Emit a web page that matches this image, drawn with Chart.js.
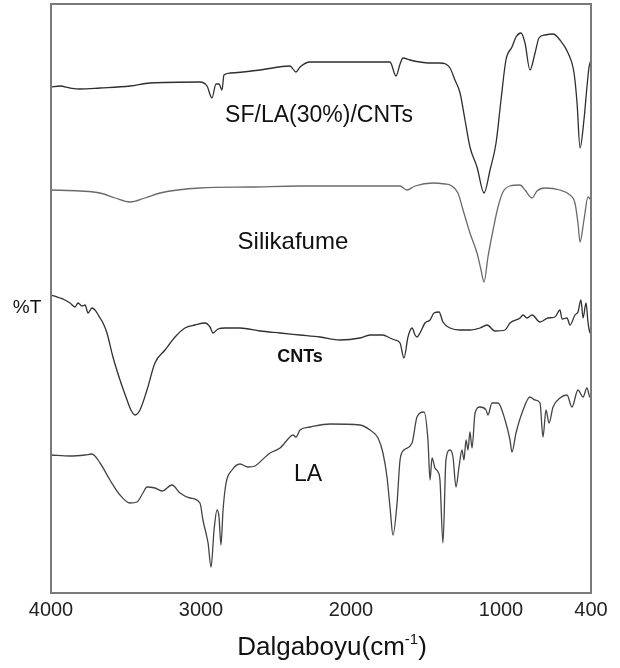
<!DOCTYPE html>
<html><head><meta charset="utf-8">
<script src="https://cdn.jsdelivr.net/npm/chart.js@4.4.0/dist/chart.umd.min.js"></script>
<style>html,body{margin:0;padding:0;background:#fff;} canvas{display:block;}</style>
</head><body>
<canvas id="c" width="620" height="668"></canvas>
<script>
// ---- data (wavenumber in cm^-1, transmittance in arbitrary %T units) ----
const xTicks = [4000, 3000, 2000, 1000, 400];
const seriesNames = ['SF/LA(30%)/CNTs', 'Silikafume', 'CNTs', 'LA'];

const sfWn = [4000,3940,3873,3807,3673,3473,3340,3007,2960,2927,2900,2880,2860,2847,2807,2607,2407,2367,2340,2273,2007,1740,1700,1673,1653,1607,1540,1473,1407,1340,1307,1273,1240,1207,1160,1113,1073,1033,1000,967,927,900,867,840,807,773,747,707,653,607,553,513,493,473,447,427,413,400];
const sfT  = [506,507,505,504,505,507,510,511,507,495,509,509,503,518,520,523,527,521,526,531,531,531,517,529,535,533,531,530,530,525,513,500,473,446,426,400,423,450,493,533,546,556,560,550,523,540,555,558,559,553,540,520,490,445,473,506,526,533];

const siWn = [4000,3807,3673,3573,3473,3373,3273,3007,2673,2340,2007,1673,1627,1573,1453,1373,1340,1287,1253,1207,1160,1133,1113,1087,1053,1020,987,940,873,840,793,760,707,607,540,507,487,473,447,420,400];
const siT  = [403,402,400,395,391,395,400,405,406,407,407,407,403,407,410,409,408,400,383,360,340,323,311,336,363,386,401,407,408,403,395,402,405,403,398,390,370,351,373,396,393];

const cnWn = [4000,3940,3907,3873,3840,3820,3793,3773,3753,3727,3707,3693,3673,3653,3627,3587,3540,3493,3467,3440,3407,3360,3307,3240,3173,3107,3040,2973,2940,2920,2887,2840,2740,2607,2473,2340,2207,2073,1940,1873,1787,1740,1707,1673,1647,1620,1593,1573,1560,1540,1507,1473,1447,1413,1387,1340,1273,1207,1140,1093,1040,973,940,873,853,827,793,740,687,640,607,593,560,540,507,487,467,453,433,420,407,400];
const cnT  = [298,295,293,290,286,290,287,288,280,285,283,280,275,270,260,236,213,193,183,178,183,203,230,243,256,265,268,270,266,260,264,265,265,262,260,258,256,253,255,258,258,255,253,250,235,256,265,258,256,260,270,273,280,281,271,265,263,263,265,268,262,263,270,275,278,275,278,271,275,276,283,274,275,268,278,281,293,275,290,271,260,270];

const laWn = [4000,3873,3773,3727,3673,3607,3540,3473,3427,3387,3360,3307,3260,3193,3140,3073,3007,2987,2967,2953,2933,2913,2893,2880,2867,2853,2833,2793,2740,2687,2640,2593,2540,2473,2407,2387,2367,2340,2273,2140,1940,1873,1820,1787,1760,1740,1720,1693,1673,1647,1593,1560,1513,1487,1473,1460,1440,1420,1407,1387,1367,1340,1320,1300,1280,1260,1247,1233,1220,1207,1193,1173,1140,1100,1087,1060,1020,973,940,927,900,860,807,773,740,720,700,680,653,607,560,527,487,453,427,407,400];
const laT  = [138,137,138,139,130,113,98,90,91,100,106,105,102,108,100,95,90,73,60,50,26,63,83,76,48,83,110,123,129,126,127,133,140,145,156,158,156,163,166,169,168,163,155,140,116,86,58,90,133,143,150,176,181,153,113,135,125,121,113,50,133,143,136,106,126,143,133,153,143,161,145,180,186,183,178,190,190,173,153,141,160,180,196,193,190,156,183,170,186,195,198,186,203,196,205,196,200];

// ---- presentation ----
const FAM = '"Liberation Sans", Arial, Helvetica, sans-serif';
const seriesColors = ['#2e2e2e', '#6a6a6a', '#303030', '#444444'];
const labelSpots = [
  {wn: 2213, t: 477, font: 'normal 23px'},
  {wn: 2387, t: 351, font: 'normal 24px'},
  {wn: 2340, t: 236, font: 'bold 18px'},
  {wn: 2287, t: 118, font: 'normal 23px'}
];

function pts(wn, t){ return wn.map((w,i)=>({x:w, y:t[i]})); }
const seriesData = [pts(sfWn,sfT), pts(siWn,siT), pts(cnWn,cnT), pts(laWn,laT)];

const decor = {
  id: 'decor',
  afterDraw(chart){
    const {ctx, chartArea:a, scales:{x, y}} = chart;
    ctx.save();
    ctx.strokeStyle = '#7a7a7a';
    ctx.lineWidth = 2;
    ctx.strokeRect(a.left, a.top, a.right - a.left, a.bottom - a.top);
    ctx.fillStyle = '#111';
    ctx.textAlign = 'center';
    ctx.textBaseline = 'middle';
    labelSpots.forEach((s, i) => {
      ctx.font = s.font + ' ' + FAM;
      ctx.fillText(seriesNames[i], x.getPixelForValue(s.wn), y.getPixelForValue(s.t));
    });
    // y axis label
    ctx.font = '19px ' + FAM;
    ctx.fillText('%T', a.left - 24, (a.top + a.bottom) / 2 + 9);
    // x axis title with superscript
    const main = 'Dalgaboyu(cm', sup = '-1', close = ')';
    ctx.font = '26px ' + FAM;
    const w1 = ctx.measureText(main).width, w3 = ctx.measureText(close).width;
    ctx.font = '15px ' + FAM;
    const w2 = ctx.measureText(sup).width;
    const cx = (a.left + a.right) / 2 + 11;
    const base = a.bottom + 62;
    let sx = cx - (w1 + w2 + w3) / 2;
    ctx.textAlign = 'left';
    ctx.textBaseline = 'alphabetic';
    ctx.font = '26px ' + FAM;
    ctx.fillText(main, sx, base);
    ctx.font = '15px ' + FAM;
    ctx.fillText(sup, sx + w1, base - 11);
    ctx.font = '26px ' + FAM;
    ctx.fillText(close, sx + w1 + w2, base);
    ctx.restore();
  }
};

new Chart(document.getElementById('c'), {
  type: 'line',
  data: {
    datasets: seriesData.map((d, i) => ({
      label: seriesNames[i],
      data: d,
      borderColor: seriesColors[i],
      borderWidth: 1.3,
      pointRadius: 0,
      cubicInterpolationMode: 'monotone',
      fill: false
    }))
  },
  options: {
    responsive: false,
    animation: false,
    layout: {padding: {left: 51, right: 29, top: 4, bottom: 0}},
    plugins: {legend: {display: false}, tooltip: {enabled: false}},
    scales: {
      x: {
        type: 'linear',
        reverse: true,
        min: 400,
        max: 4000,
        afterBuildTicks: s => { s.ticks = xTicks.map(v => ({value: v})); },
        afterFit: s => { s.height = 75; },
        grid: {display: false, drawTicks: false},
        border: {display: false},
        ticks: {
          autoSkip: false,
          maxRotation: 0,
          padding: 5,
          color: '#222',
          font: {family: FAM, size: 20},
          callback: v => String(v)
        }
      },
      y: {
        display: false,
        min: 0,
        max: 589
      }
    }
  },
  plugins: [decor]
});
</script>
</body></html>
